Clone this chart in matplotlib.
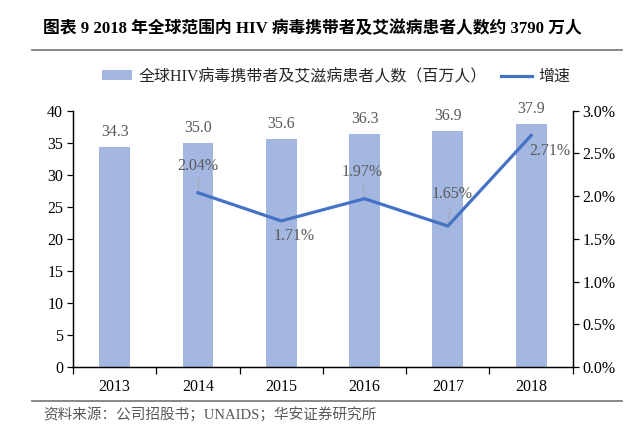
import numpy as np
import matplotlib
matplotlib.use('Agg')
import matplotlib.pyplot as plt
from matplotlib.ticker import FuncFormatter, FixedLocator

plt.rcParams['font.family'] = ['Liberation Serif', 'Noto Sans CJK SC']

years = ['2013', '2014', '2015', '2016', '2017', '2018']
people = [34.3, 35.0, 35.6, 36.3, 36.9, 37.9]       # 百万人
growth = [None, 2.04, 1.71, 1.97, 1.65, 2.71]      # %

title = '图表 9 2018 年全球范围内 HIV 病毒携带者及艾滋病患者人数约 3790 万人'
bar_name = '全球HIV病毒携带者及艾滋病患者人数（百万人）'
line_name = '增速'
source = '资料来源：公司招股书；UNAIDS；华安证券研究所'

bar_color = '#A3B7E0'
line_color = '#4472C4'
txt_gray = '#595959'

fig = plt.figure(figsize=(6.4, 4.26), dpi=100)
ax = fig.add_axes([0.114, 0.1385, 0.781, 0.6017])
ax2 = ax.twinx()

x = np.arange(len(years))
ax.bar(x, people, width=0.37, color=bar_color, label=bar_name, zorder=2)
ax.set_xlim(-0.5, len(years) - 0.5)
ax.set_ylim(0, 40)
ax.set_yticks(range(0, 41, 5))

gx = [i for i, g in enumerate(growth) if g is not None]
gy = [g for g in growth if g is not None]
ax2.plot(gx, gy, color=line_color, lw=2.3, label=line_name, zorder=3)
ax2.set_ylim(0, 3.0)
ax2.set_yticks(np.arange(0, 3.01, 0.5))
ax2.yaxis.set_major_formatter(FuncFormatter(lambda v, p: '%.1f%%' % v))

for a in (ax, ax2):
    a.spines['top'].set_visible(False)
    for s in ('left', 'right', 'bottom'):
        a.spines[s].set_color('#000000')
        a.spines[s].set_linewidth(0.9)
    a.tick_params(axis='y', labelsize=11.5, length=4, width=0.9, pad=3)

ax.set_xticks(x)
ax.set_xticklabels(years, fontsize=11.5)
ax.xaxis.set_minor_locator(FixedLocator(np.arange(-0.5, len(years), 1)))
ax.tick_params(axis='x', which='major', length=0, pad=9)
ax.tick_params(axis='x', which='minor', length=5, width=0.9)

# bar value labels
for i, v in enumerate(people):
    ax.annotate('%.1f' % v, (x[i], v), xytext=(0, 5), textcoords='offset points',
                ha='center', va='bottom', fontsize=11.5, color=txt_gray)

# growth labels (label position, leader line flag)
lab_pos = {1: (0.0, 2.35, True), 2: (0.16, 1.53, False), 3: (-0.03, 2.28, True),
           4: (0.05, 2.02, True), 5: (0.23, 2.53, False)}
for i, g in zip(gx, gy):
    dx, ly, lead = lab_pos[i]
    ax2.text(i + dx, ly, '%.2f%%' % g, ha='center', va='center',
             fontsize=11.5, color=txt_gray, zorder=4)
    if lead:
        ax2.plot([i + dx * 0.6, i], [ly - 0.13, g + 0.02], color='#A6A6A6',
                 lw=0.6, zorder=2.5)

# title, rules, legend, source
fig.text(43 / 640, 1 - 29 / 426, title, fontsize=12.1, fontweight='bold',
         ha='left', va='center')
fig.add_artist(plt.Line2D([32 / 640, 622 / 640], [1 - 50 / 426, 1 - 50 / 426],
                          color='#7F7F7F', lw=1.3))
fig.add_artist(plt.Line2D([32 / 640, 622 / 640], [1 - 401 / 426, 1 - 401 / 426],
                          color='#7F7F7F', lw=1.3))
fig.text(43 / 640, 1 - 415 / 426, source, fontsize=10.5, color=txt_gray,
         ha='left', va='center')

h1, l1 = ax.get_legend_handles_labels()
h2, l2 = ax2.get_legend_handles_labels()
fig.legend(h1 + h2, l1 + l2, loc='center', bbox_to_anchor=(336 / 640, 1 - 77 / 426),
           ncol=2, frameon=False, fontsize=11.5, handlelength=1.9, handleheight=0.6,
           columnspacing=0.9, handletextpad=0.4, labelcolor='#262626')

fig.savefig('out.png', dpi=100)
